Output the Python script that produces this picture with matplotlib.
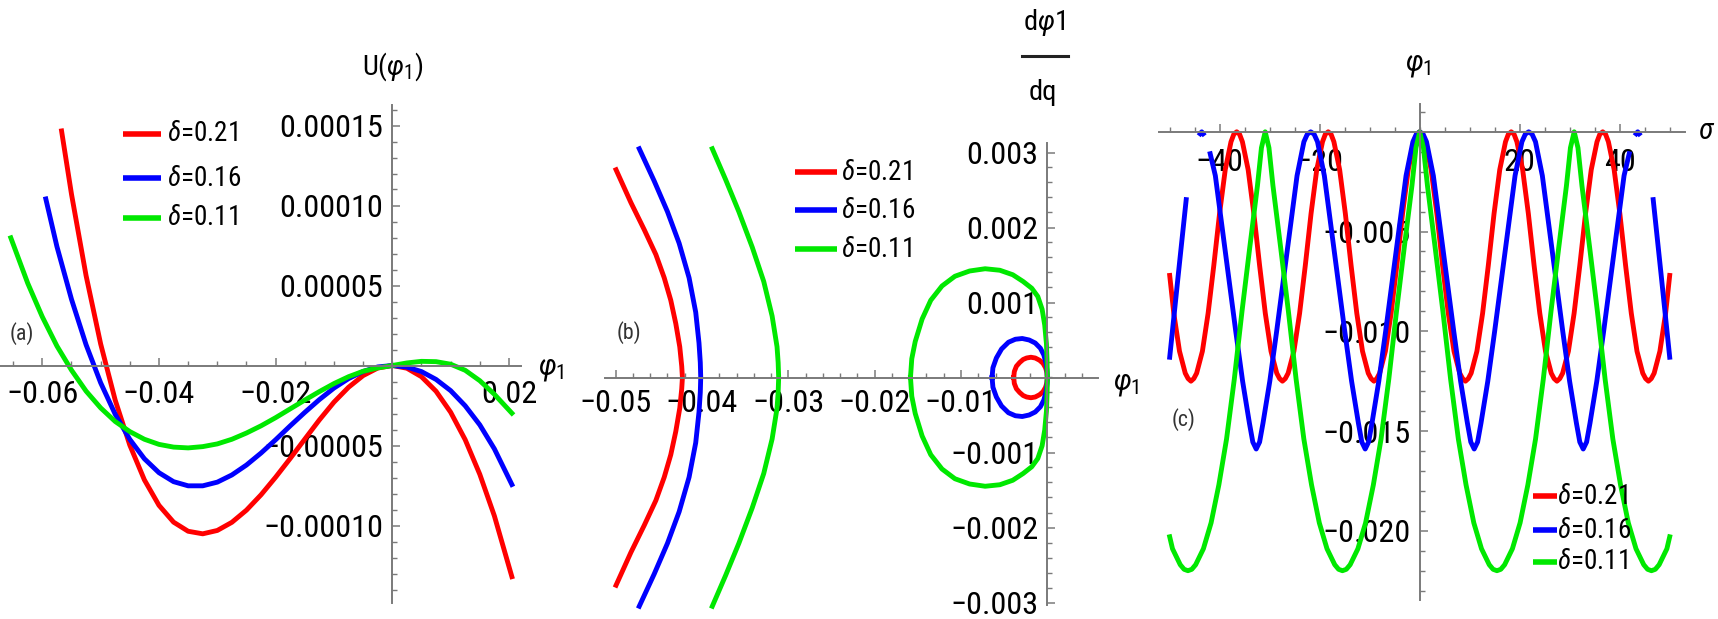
import numpy as np
import matplotlib
matplotlib.use("Agg")
import matplotlib.pyplot as plt
import matplotlib.font_manager as fm
from matplotlib.lines import Line2D
from matplotlib.ticker import FixedLocator, FixedFormatter

# ---------------- data ----------------
series_labels = [r"$\delta$=0.21", r"$\delta$=0.16", r"$\delta$=0.11"]

# (a) Sagdeev potential U(phi1)
a_red_x = [-0.0567, -0.055, -0.0525, -0.05, -0.0475, -0.045, -0.0425, -0.04, -0.0375, -0.035,
           -0.0325, -0.03, -0.0275, -0.025, -0.0225, -0.02, -0.0175, -0.015, -0.0125, -0.01,
           -0.0075, -0.005, -0.0025, 0.0, 0.0025, 0.005, 0.0075, 0.01, 0.0125, 0.015, 0.0175, 0.0205]
a_red_u = [14.66e-5, 10.71e-5, 5.62e-5, 1.35e-5, -2.17e-5, -4.98e-5, -7.15e-5, -8.74e-5, -9.79e-5, -10.36e-5,
           -10.52e-5, -10.31e-5, -9.80e-5, -9.04e-5, -8.08e-5, -6.98e-5, -5.81e-5, -4.60e-5, -3.40e-5, -2.29e-5,
           -1.36e-5, -0.63e-5, -0.16e-5, 0.0, -0.17e-5, -0.70e-5, -1.61e-5, -2.92e-5, -4.64e-5, -6.80e-5, -9.40e-5, -13.20e-5]
a_blue_x = [-0.0594, -0.0575, -0.055, -0.0525, -0.05, -0.0475, -0.045, -0.0425, -0.04, -0.0375,
            -0.035, -0.0325, -0.03, -0.0275, -0.025, -0.0225, -0.02, -0.0175, -0.015, -0.0125,
            -0.01, -0.0075, -0.005, -0.0025, 0.0, 0.0025, 0.005, 0.0075, 0.01, 0.0125, 0.015, 0.0175, 0.0205]
a_blue_u = [10.41e-5, 7.44e-5, 4.14e-5, 1.30e-5, -1.08e-5, -3.05e-5, -4.62e-5, -5.83e-5, -6.70e-5, -7.26e-5,
            -7.52e-5, -7.52e-5, -7.29e-5, -6.84e-5, -6.22e-5, -5.47e-5, -4.64e-5, -3.77e-5, -2.93e-5, -2.13e-5,
            -1.41e-5, -0.82e-5, -0.37e-5, -0.09e-5, 0.0, -0.10e-5, -0.38e-5, -0.87e-5, -1.57e-5, -2.52e-5, -3.71e-5, -5.21e-5, -7.44e-5]
a_green_x = [-0.0654, -0.0625, -0.06, -0.0575, -0.055, -0.0525, -0.05, -0.0475, -0.045, -0.0425,
             -0.04, -0.0375, -0.035, -0.0325, -0.03, -0.0275, -0.025, -0.0225, -0.02, -0.0175,
             -0.015, -0.0125, -0.01, -0.0075, -0.005, -0.0025, 0.0, 0.0025, 0.005, 0.0075, 0.01,
             0.0125, 0.015, 0.0175, 0.0205]
a_green_u = [7.98e-5, 5.14e-5, 3.04e-5, 1.22e-5, -0.29e-5, -1.60e-5, -2.65e-5, -3.50e-5, -4.13e-5, -4.61e-5,
             -4.93e-5, -5.10e-5, -5.15e-5, -5.07e-5, -4.90e-5, -4.61e-5, -4.22e-5, -3.77e-5, -3.26e-5, -2.71e-5,
             -2.16e-5, -1.63e-5, -1.13e-5, -0.70e-5, -0.36e-5, -0.15e-5, 0.0, 0.16e-5, 0.26e-5, 0.24e-5, 0.08e-5,
             -0.30e-5, -0.95e-5, -1.80e-5, -2.98e-5]

# (b) phase portrait, upper halves (the picture is mirror-symmetric about dphi/dq = 0)
b_red_x = [-0.04227, -0.04235, -0.04258, -0.04304, -0.04362, -0.04438, -0.04535, -0.04669, -0.04823, -0.04996]
b_red_y = [0.0, 0.00015, 0.00041, 0.00072, 0.00103, 0.00133, 0.00164, 0.00197, 0.00233, 0.00277]
b_blue_x = [-0.04015, -0.0402, -0.04035, -0.04073, -0.0415, -0.04265, -0.044, -0.04554, -0.04727]
b_blue_y = [0.0, 0.0002, 0.00046, 0.00087, 0.00133, 0.00179, 0.00221, 0.00262, 0.00305]
b_green_x = [-0.03112, -0.03118, -0.03131, -0.03188, -0.03285, -0.03419, -0.03573, -0.03727, -0.03881]
b_green_y = [0.0, 0.0002, 0.00041, 0.00082, 0.00128, 0.00174, 0.00221, 0.00264, 0.00305]
b_red_loop_x = [-0.00389, -0.00382, -0.00358, -0.0032, -0.0028, -0.0024, -0.0019, -0.0014, -0.0009,
                -0.0005, -0.0002, -0.00005, 0.0]
b_red_loop_y = [0.0, 0.00008, 0.00015, 0.0002, 0.00024, 0.00026, 0.00027, 0.00026, 0.00023,
                0.00019, 0.00013, 0.00007, 0.0]
b_blue_loop_x = [-0.0064, -0.0063, -0.0059, -0.0053, -0.0045, -0.0037, -0.0029, -0.0021, -0.0014,
                 -0.0008, -0.0004, -0.00015, -0.00003, 0.0]
b_blue_loop_y = [0.0, 0.00013, 0.00026, 0.00038, 0.00047, 0.00051, 0.00052, 0.0005, 0.00046,
                 0.00039, 0.0003, 0.00019, 0.00009, 0.0]
b_green_loop_x = [-0.01585, -0.0157, -0.0153, -0.0145, -0.0135, -0.0122, -0.0107, -0.009, -0.0072,
                  -0.0055, -0.004, -0.0028, -0.0018, -0.0011, -0.0006, -0.0003, -0.0001, -0.00002, 0.0]
b_green_loop_y = [0.0, 0.00025, 0.00048, 0.00078, 0.00103, 0.00122, 0.00135, 0.00142, 0.00145,
                  0.00143, 0.00137, 0.00128, 0.00119, 0.00108, 0.00091, 0.0007, 0.00045, 0.0002, 0.0]

# (c) periodic wave phi1(sigma)
c_red_s = [-50.0, -49.18, -48.04, -46.89, -46.32, -45.75, -45.18, -44.61, -43.46, -42.32, -41.18, -40.03, -38.89,
           -37.74, -37.17, -36.6, -36.03, -35.46, -34.31, -33.17, -32.02, -30.88, -29.74, -28.59, -28.02, -27.45,
           -26.88, -26.31, -25.16, -24.02, -22.88, -21.73, -20.59, -19.44, -18.87, -18.3, -17.73, -17.16, -16.01,
           -14.87, -13.72, -12.58, -11.44, -10.29, -9.72, -9.15, -8.58, -8.01, -6.86, -5.72, -4.58, -3.43, -2.29,
           -1.14, -0.57, 0.0, 0.57, 1.14, 2.29, 3.43, 4.58, 5.72, 6.86, 8.01, 8.58, 9.15, 9.72, 10.29, 11.44, 12.58,
           13.72, 14.87, 16.01, 17.16, 17.73, 18.3, 18.87, 19.44, 20.59, 21.73, 22.88, 24.02, 25.16, 26.31, 26.88,
           27.45, 28.02, 28.59, 29.74, 30.88, 32.02, 33.17, 34.31, 35.46, 36.03, 36.6, 37.17, 37.74, 38.89, 40.03,
           41.18, 42.32, 43.46, 44.61, 45.18, 45.75, 46.32, 46.89, 48.04, 49.18, 50.0]
c_red_p = [-0.0072, -0.0091, -0.0110, -0.0121, -0.01237, -0.0125, -0.01237, -0.0121, -0.0110, -0.0091, -0.0067, -0.0041, -0.0019,
           -0.0005, -0.00012, 0.0, -0.00012, -0.0005, -0.0019, -0.0041, -0.0067, -0.0091, -0.0110, -0.0121, -0.01237, -0.0125,
           -0.01237, -0.0121, -0.0110, -0.0091, -0.0067, -0.0041, -0.0019, -0.0005, -0.00012, 0.0, -0.00012, -0.0005, -0.0019,
           -0.0041, -0.0067, -0.0091, -0.0110, -0.0121, -0.01237, -0.0125, -0.01237, -0.0121, -0.0110, -0.0091, -0.0067, -0.0041, -0.0019,
           -0.0005, -0.00012, 0.0, -0.00012, -0.0005, -0.0019, -0.0041, -0.0067, -0.0091, -0.0110, -0.0121, -0.01237, -0.0125, -0.01237, -0.0121, -0.0110, -0.0091,
           -0.0067, -0.0041, -0.0019, -0.0005, -0.00012, 0.0, -0.00012, -0.0005, -0.0019, -0.0041, -0.0067, -0.0091, -0.0110, -0.0121, -0.01237,
           -0.0125, -0.01237, -0.0121, -0.0110, -0.0091, -0.0067, -0.0041, -0.0019, -0.0005, -0.00012, 0.0, -0.00012, -0.0005, -0.0019, -0.0041,
           -0.0067, -0.0091, -0.0110, -0.0121, -0.01237, -0.0125, -0.01237, -0.0121, -0.0110, -0.0091, -0.0072]
nan = float("nan")
c_blue_s = [-50.0, -48.3, -46.7, nan, -43.9, -43.6, -43.3, nan, -41.9, -40.87, -39.51, -38.15, -36.79, -35.42,
            -34.06, -33.38, -32.7, -32.02, -31.34, -29.98, -28.61, -27.25, -25.89, -24.53, -23.16, -22.48, -21.8,
            -21.12, -20.44, -19.07, -17.71, -16.35, -14.99, -13.62, -12.26, -11.58, -10.9, -10.22, -9.54, -8.18,
            -6.81, -5.45, -4.09, -2.73, -1.36, -0.68, 0.0, 0.68, 1.36, 2.73, 4.09, 5.45, 6.81, 8.18, 9.54, 10.22,
            10.9, 11.58, 12.26, 13.62, 14.99, 16.35, 17.71, 19.07, 20.44, 21.12, 21.8, 22.48, 23.16, 24.53, 25.89,
            27.25, 28.61, 29.98, 31.34, 32.02, 32.7, 33.38, 34.06, 35.42, 36.79, 38.15, 39.51, 40.87, 41.9, nan,
            43.3, 43.6, 43.9, nan, 46.7, 48.3, 50.0]
c_blue_p = [-0.0113, -0.0072, -0.0034, nan, -0.0001, 0.0, -0.0001, nan, -0.0011, -0.0022, -0.0048, -0.0074, -0.0100, -0.0125,
            -0.0146, -0.01555, -0.0159, -0.01555, -0.0146, -0.0125, -0.0100, -0.0074, -0.0048, -0.0022, -0.0005, -0.00012, 0.0,
            -0.00012, -0.0005, -0.0022, -0.0048, -0.0074, -0.0100, -0.0125, -0.0146, -0.01555, -0.0159, -0.01555, -0.0146, -0.0125,
            -0.0100, -0.0074, -0.0048, -0.0022, -0.0005, -0.00012, 0.0, -0.00012, -0.0005, -0.0022, -0.0048, -0.0074, -0.0100, -0.0125, -0.0146, -0.01555,
            -0.0159, -0.01555, -0.0146, -0.0125, -0.0100, -0.0074, -0.0048, -0.0022, -0.0005, -0.00012, 0.0, -0.00012, -0.0005, -0.0022, -0.0048,
            -0.0074, -0.0100, -0.0125, -0.0146, -0.01555, -0.0159, -0.01555, -0.0146, -0.0125, -0.0100, -0.0074, -0.0048, -0.0022, -0.0011, nan,
            -0.0001, 0.0, -0.0001, nan, -0.0034, -0.0072, -0.0113]
c_green_s = [-50.0, -49.44, -47.89, -47.12, -46.35, -45.58, -44.81, -43.26, -41.72, -40.17, -38.63, -37.08, -35.54,
             -33.99, -32.45, -31.65, -30.9, -30.15, -29.35, -27.81, -26.26, -24.72, -23.17, -21.63, -20.08, -18.54,
             -16.99, -16.22, -15.45, -14.68, -13.91, -12.36, -10.82, -9.27, -7.73, -6.18, -4.64, -3.09, -1.55, -0.75, 0.0,
             0.75, 1.55, 3.09, 4.64, 6.18, 7.73, 9.27, 10.82, 12.36, 13.91, 14.68, 15.45, 16.22, 16.99, 18.54, 20.08, 21.63,
             23.17, 24.72, 26.26, 27.81, 29.35, 30.15, 30.9, 31.65, 32.45, 33.99, 35.54, 37.08, 38.63, 40.17,
             41.72, 43.26, 44.81, 45.58, 46.35, 47.12, 47.89, 49.44, 50.0]
c_green_p = [-0.0203, -0.0209, -0.0217, -0.02193, -0.0220, -0.02193, -0.0217, -0.0209, -0.0196, -0.0177, -0.0154, -0.0124, -0.0090,
             -0.0058, -0.0027, -0.0008, 0.0, -0.0008, -0.0027, -0.0058, -0.0090, -0.0124, -0.0154, -0.0177, -0.0196, -0.0209,
             -0.0217, -0.02193, -0.0220, -0.02193, -0.0217, -0.0209, -0.0196, -0.0177, -0.0154, -0.0124, -0.0090, -0.0058, -0.0027, -0.0008, 0.0,
             -0.0008, -0.0027, -0.0058, -0.0090, -0.0124, -0.0154, -0.0177, -0.0196, -0.0209, -0.0217, -0.02193, -0.0220, -0.02193, -0.0217, -0.0209, -0.0196, -0.0177,
             -0.0154, -0.0124, -0.0090, -0.0058, -0.0027, -0.0008, 0.0, -0.0008, -0.0027, -0.0058, -0.0090, -0.0124, -0.0154, -0.0177,
             -0.0196, -0.0209, -0.0217, -0.02193, -0.0220, -0.02193, -0.0217, -0.0209, -0.0203]

# tick labels
a_xticks = [-0.06, -0.04, -0.02, 0.02]
a_xticklabels = ["\u22120.06", "\u22120.04", "\u22120.02", "0.02"]
a_yticks = [-0.0001, -0.00005, 0.00005, 0.0001, 0.00015]
a_yticklabels = ["\u22120.00010", "\u22120.00005", "0.00005", "0.00010", "0.00015"]
b_xticks = [-0.05, -0.04, -0.03, -0.02, -0.01]
b_xticklabels = ["\u22120.05", "\u22120.04", "\u22120.03", "\u22120.02", "\u22120.01"]
b_yticks = [-0.003, -0.002, -0.001, 0.001, 0.002, 0.003]
b_yticklabels = ["\u22120.003", "\u22120.002", "\u22120.001", "0.001", "0.002", "0.003"]
c_xticks = [-40, -20, 20, 40]
c_xticklabels = ["\u221240", "\u221220", "20", "40"]
c_yticks = [-0.02, -0.015, -0.01, -0.005]
c_yticklabels = ["\u22120.020", "\u22120.015", "\u22120.010", "\u22120.005"]

# ---------------- style ----------------
names = {f.name for f in fm.fontManager.ttflist}
if "Liberation Sans Narrow" in names:
    FONT, K = "Liberation Sans Narrow", 1.0
elif "Roboto Condensed" in names:
    FONT, K = "Roboto Condensed", 0.93
else:
    FONT, K = "Liberation Sans", 0.82
plt.rcParams["font.family"] = [FONT, "DejaVu Sans"]
plt.rcParams["mathtext.fontset"] = "custom"
plt.rcParams["mathtext.rm"] = FONT
plt.rcParams["mathtext.it"] = FONT + ":italic"
plt.rcParams["mathtext.bf"] = FONT + ":bold"

TICK_FS = 25 * K
LEG_FS = 21 * K
LAB_FS = 22 * K
PAN_FS = 17 * K
RED, BLUE, GREEN = "#ff0000", "#0000ff", "#00e800"
COLORS = [RED, BLUE, GREEN]
AXC = "#7a7a7a"
LW = 3.5

W, H = 1718, 619
fig = plt.figure(figsize=(W / 100, H / 100), dpi=100)


def px_axes(x0, x1, y0, y1):
    return fig.add_axes([x0 / W, 1 - y1 / H, (x1 - x0) / W, (y1 - y0) / H])


def style(ax, xlim, ylim, xt, xtl, xminor, yt, ytl, yminor, xpad, ypad):
    ax.set_xlim(xlim)
    ax.set_ylim(ylim)
    ax.patch.set_visible(False)
    for s in ("top", "right"):
        ax.spines[s].set_visible(False)
    for s in ("left", "bottom"):
        ax.spines[s].set_position(("data", 0))
        ax.spines[s].set_color(AXC)
        ax.spines[s].set_linewidth(1.4)
    ax.xaxis.set_major_locator(FixedLocator(xt))
    ax.xaxis.set_major_formatter(FixedFormatter(xtl))
    ax.xaxis.set_minor_locator(FixedLocator(xminor))
    ax.yaxis.set_major_locator(FixedLocator(yt))
    ax.yaxis.set_major_formatter(FixedFormatter(ytl))
    ax.yaxis.set_minor_locator(FixedLocator(yminor))
    ax.tick_params(which="both", direction="in", color=AXC, labelcolor="#000000")
    ax.tick_params(which="major", length=5.8, width=1.1)
    ax.tick_params(which="minor", length=3.4, width=1.0)
    ax.tick_params(axis="x", which="major", pad=xpad, labelsize=TICK_FS)
    ax.tick_params(axis="y", which="major", pad=ypad, labelsize=TICK_FS)


def legend_block(xl0, xl1, xt, ys):
    for y, lab, c in zip(ys, series_labels, COLORS):
        fig.add_artist(Line2D([xl0 / W, xl1 / W], [1 - y / H, 1 - y / H], color=c, lw=4.0,
                              solid_capstyle="butt", transform=fig.transFigure))
        fig.text(xt / W, 1 - y / H, lab, ha="left", va="center", fontsize=LEG_FS, color="#000000")


def ftext(x, y, s, fs, ha="center", va="center", color="#000000"):
    fig.text(x / W, 1 - y / H, s, ha=ha, va=va, fontsize=fs, color=color)


# ---------- panel (a) ----------
ax_a = px_axes(0, 521, 105, 603)
style(ax_a, ((0 - 392.3) / 5833, (521 - 392.3) / 5833),
      (-(603 - 365.5) / 1.6e6, (365.5 - 105) / 1.6e6),
      a_xticks, a_xticklabels, list(np.arange(-0.065, 0.0226, 0.005)),
      a_yticks, a_yticklabels, list(np.arange(-0.00014, 0.000161, 0.00001)), 10.5, 6.5)
for xs, us, c in zip([a_red_x, a_blue_x, a_green_x], [a_red_u, a_blue_u, a_green_u], COLORS):
    ax_a.plot(xs, us, color=c, lw=LW, clip_on=False, zorder=2, solid_joinstyle="round")

# ---------- panel (b) ----------
ax_b = px_axes(605, 1098, 143, 605)
style(ax_b, ((605 - 1047.3) / 8632, (1098 - 1047.3) / 8632),
      (-(605 - 377.5) / 75000, (377.5 - 143) / 75000),
      b_xticks, b_xticklabels, list(np.arange(-0.05, 0.0059, 0.002)),
      b_yticks, b_yticklabels, list(np.arange(-0.003, 0.00311, 0.0002)), 8.5, 6.5)
for xs, ys, c in zip([b_red_x, b_blue_x, b_green_x], [b_red_y, b_blue_y, b_green_y], COLORS):
    xs = np.asarray(xs); ys = np.asarray(ys)
    ax_b.plot(np.concatenate([xs[::-1], xs[1:]]), np.concatenate([ys[::-1], -ys[1:]]),
              color=c, lw=LW, clip_on=False, zorder=2, solid_joinstyle="round")
for xs, ys, c in zip([b_red_loop_x, b_blue_loop_x, b_green_loop_x],
                     [b_red_loop_y, b_blue_loop_y, b_green_loop_y], COLORS):
    xs = np.asarray(xs); ys = np.asarray(ys)
    ax_b.plot(np.concatenate([xs, xs[::-1][1:]]), np.concatenate([ys, -ys[::-1][1:]]),
              color=c, lw=LW, clip_on=False, zorder=2, solid_joinstyle="round")

# ---------- panel (c) ----------
ax_c = px_axes(1159, 1685, 104, 600)
style(ax_c, ((1159 - 1419.7) / 5.0, (1685 - 1419.7) / 5.0),
      (-(600 - 131.8) / 19950, (131.8 - 104) / 19950),
      c_xticks, c_xticklabels, list(np.arange(-50, 51, 5)),
      c_yticks, c_yticklabels, list(np.arange(-0.023, 0.0011, 0.001)), 12, 6.5)
for ss, ps, c in zip([c_red_s, c_blue_s, c_green_s], [c_red_p, c_blue_p, c_green_p], COLORS):
    ax_c.plot(ss, ps, color=c, lw=LW, clip_on=False, zorder=2, solid_joinstyle="round")

# ---------- labels ----------
ftext(392.5, 67, r"U($\varphi_1$)", LAB_FS)
ftext(538, 369, r"$\varphi_1$", LAB_FS + 1, ha="left")
ftext(21.5, 334, "(a)", PAN_FS, color="#333333")
legend_block(123, 161, 167, [133.5, 178, 218])

ftext(1044, 23, r"d$\varphi$1", LAB_FS)
fig.add_artist(Line2D([1022 / W, 1068 / W], [1 - 55.5 / H, 1 - 55.5 / H], color="#222222", lw=2.2,
                      transform=fig.transFigure))
ftext(1043, 92, "dq", LAB_FS)
ftext(1113, 384, r"$\varphi_1$", LAB_FS + 1, ha="left")
ftext(629, 333, "(b)", PAN_FS, color="#333333")
legend_block(795, 837, 841, [172, 210, 249.5])

ftext(1418, 65, r"$\varphi_1$", LAB_FS + 1)
ftext(1698, 131, r"$\sigma$", LAB_FS + 1, ha="left")
ftext(1184, 420, "(c)", PAN_FS, color="#333333")
legend_block(1533, 1557, 1557, [496, 530, 561.5])

fig.savefig("out.png", dpi=100)
